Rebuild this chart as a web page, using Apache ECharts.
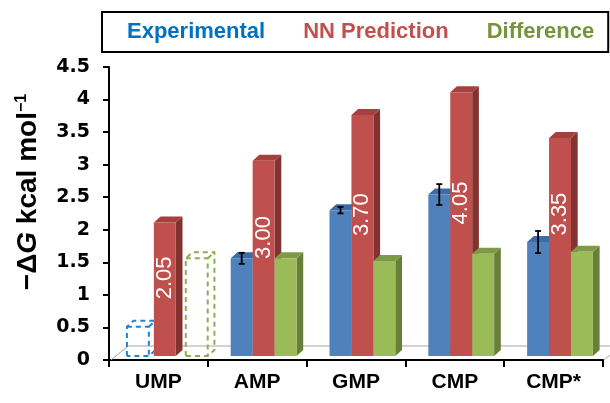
<!DOCTYPE html>
<html><head><meta charset="utf-8">
<script src="https://cdn.jsdelivr.net/npm/echarts@6/dist/echarts.min.js"></script>
<style>html,body{margin:0;padding:0;background:#fff}#c{width:610px;height:403px}</style>
</head><body><div id="c"></div>
<script>
// ---- data ----
const categories = ['UMP', 'AMP', 'GMP', 'CMP', 'CMP*'];
const experimental = [0.45, 1.50, 2.24, 2.48, 1.75];
const experimentalErr = [0, 0.085, 0.05, 0.16, 0.17];
const nnPrediction = [2.05, 3.00, 3.70, 4.05, 3.35];
const difference = [1.50, 1.50, 1.46, 1.57, 1.60];
// UMP experimental / difference are drawn as dashed (hypothetical) boxes
const hypothetical = [true, false, false, false, false];
const seriesNames = ['Experimental', 'NN Prediction', 'Difference'];

// ---- styling ----
const nnLabelCenter = [1.20, 1.82, 2.17, 2.35, 2.18]; // label centre, in axis units
const hypoShift = [-5, 0, 10]; // px shift of dashed boxes per slot
const DX = 6.7, DY = 6, LIFT = 4;
const palette = [
  {front: '#4F81BD', top: '#3E6BA3', side: '#355E8E', dash: '#1A86D6', legend: '#0070C0'},
  {front: '#C0504D', top: '#A3413E', side: '#843230', dash: '#C0504D', legend: '#C0504D'},
  {front: '#9BBB59', top: '#7E9A46', side: '#687F3A', dash: '#8DAE4E', legend: '#77933C'}
];

function geom(api, slot) {
  const ci = api.value(0), v = api.value(1);
  const top = api.coord([ci, v]), base = api.coord([ci, 0]);
  const cw = api.size([1, 0])[0];
  const w = cw * 0.222;
  const x0 = top[0] - cw * 0.268 + slot * w;
  return {ci, v, x0, x1: x0 + w, w, yt: top[1] - LIFT, yb: base[1] - LIFT};
}
function solid(g, c) {
  return [
    {type: 'polygon', shape: {points: [[g.x1, g.yt], [g.x1 + DX, g.yt - DY], [g.x1 + DX, g.yb - DY], [g.x1, g.yb]]}, style: {fill: c.side}},
    {type: 'polygon', shape: {points: [[g.x0, g.yt], [g.x0 + DX, g.yt - DY], [g.x1 + DX, g.yt - DY], [g.x1, g.yt]]}, style: {fill: c.top}},
    {type: 'rect', shape: {x: g.x0, y: g.yt, width: g.w, height: g.yb - g.yt}, style: {fill: c.front}}
  ];
}
function dashed(g, color, shift) {
  const x0 = g.x0 + shift, x1 = g.x1 + shift;
  const st = {fill: 'none', stroke: color, lineWidth: 2, lineDash: [5, 4]};
  return [
    {type: 'polyline', shape: {points: [[x0, g.yb], [x0, g.yt], [x0 + DX, g.yt - DY], [x1 + DX, g.yt - DY], [x1 + DX, g.yb - DY], [x1, g.yb], [x0, g.yb]]}, style: st},
    {type: 'polyline', shape: {points: [[x0, g.yt], [x1, g.yt], [x1, g.yb]]}, style: st},
    {type: 'line', shape: {x1: x1, y1: g.yt, x2: x1 + DX, y2: g.yt - DY}, style: st}
  ];
}
function makeRender(slot) {
  return function (params, api) {
    const g = geom(api, slot);
    if (isNaN(g.v)) return;
    const c = palette[slot];
    let children;
    if (slot !== 1 && hypothetical[g.ci]) {
      children = dashed(g, c.dash, hypoShift[slot]);
    } else {
      children = solid(g, c);
    }
    if (slot === 0) {
      const e = api.value(2);
      if (e > 0) {
        const cx = (g.x0 + g.x1) / 2;
        const yh = api.coord([g.ci, g.v + e])[1] - LIFT;
        const yl = api.coord([g.ci, g.v - e])[1] - LIFT;
        const st = {stroke: '#000', lineWidth: 1.8};
        children.push({type: 'line', shape: {x1: cx, y1: yh, x2: cx, y2: yl}, style: st});
        children.push({type: 'line', shape: {x1: cx - 3, y1: yh, x2: cx + 3, y2: yh}, style: st});
        children.push({type: 'line', shape: {x1: cx - 3, y1: yl, x2: cx + 3, y2: yl}, style: st});
      }
    }
    if (slot === 1) {
      const yl = api.coord([g.ci, nnLabelCenter[g.ci]])[1] - LIFT;
      children.push({type: 'text', x: (g.x0 + g.x1) / 2, y: yl, rotation: Math.PI / 2,
        style: {text: g.v.toFixed(2), fill: '#fff', font: '22px "Liberation Sans", Arial', align: 'center', verticalAlign: 'middle'}});
    }
    return {type: 'group', children};
  };
}

const chart = echarts.init(document.getElementById('c'), null, {renderer: 'canvas'});
const values = [experimental, nnPrediction, difference];
const series = [{
  type: 'custom', name: 'floor', silent: true, z: 1, clip: false,
  data: [[0, 0]],
  renderItem: function (params, api) {
    const cs = params.coordSys;
    const x0 = cs.x, x1 = cs.x + cs.width, yb = cs.y + cs.height;
    const st = {fill: 'none', stroke: '#A6A6A6', lineWidth: 1};
    return {type: 'group', children: [
      {type: 'polyline', shape: {points: [[x0 + 2, yb], [x0 + 19, yb - 14], [x1 + 19, yb - 14]]}, style: st},
      {type: 'line', shape: {x1: x1 + 1, y1: yb, x2: x1 + 18, y2: yb - 14}, style: st}
    ]};
  }
}];
seriesNames.forEach(function (name, s) {
  series.push({
    type: 'custom', name: name, z: 2, clip: false,
    itemStyle: {color: palette[s].front},
    data: categories.map(function (c, i) { return s === 0 ? [i, values[s][i], experimentalErr[i]] : [i, values[s][i]]; }),
    renderItem: makeRender(s)
  });
});

chart.setOption({
  animation: false,
  backgroundColor: '#fff',
  grid: {left: 109, right: 7, top: 67, bottom: 43},
  legend: {
    left: 102, top: 12, orient: 'horizontal', selectedMode: false,
    padding: [9, 14, 9, 20], itemGap: 33, itemWidth: 0, itemHeight: 0,
    borderColor: '#000', borderWidth: 2, borderRadius: 0,
    textStyle: {fontFamily: '"Liberation Sans", Arial', fontWeight: 'bold', fontSize: 22},
    data: seriesNames.map(function (n, i) { return {name: n, icon: 'rect', textStyle: {color: palette[i].legend}}; })
  },
  xAxis: {
    type: 'category', data: categories,
    axisLine: {show: true, lineStyle: {color: '#000', width: 2}},
    axisTick: {show: true, length: 7, interval: 0, lineStyle: {color: '#000', width: 2}},
    axisLabel: {margin: 12, color: '#000', fontFamily: '"Liberation Sans", Arial', fontWeight: 'bold', fontSize: 21},
    splitLine: {show: false}
  },
  yAxis: {
    type: 'value', min: 0, max: 4.5, interval: 0.5,
    axisLine: {show: true, lineStyle: {color: '#000', width: 2}},
    axisTick: {show: true, length: 6, lineStyle: {color: '#000', width: 2}},
    axisLabel: {margin: 19, color: '#000', fontFamily: '"DejaVu Sans"', fontWeight: 'bold', fontSize: 19},
    splitLine: {show: false}
  },
  graphic: [{
    type: 'text', x: 28, y: 192, rotation: Math.PI / 2,
    style: {
      text: '{b|−Δ}{i|G}{b| kcal mol}{s|−1}',
      align: 'center', verticalAlign: 'middle', fill: '#000',
      rich: {
        b: {fontFamily: '"Liberation Sans", Arial', fontWeight: 'bold', fontSize: 28, color: '#000'},
        i: {fontFamily: '"Liberation Sans", Arial', fontWeight: 'bold', fontStyle: 'italic', fontSize: 28, color: '#000'},
        s: {fontFamily: '"Liberation Sans", Arial', fontWeight: 'bold', fontSize: 16, verticalAlign: 'top', color: '#000'}
      }
    }
  }],
  series: series
});
</script></body></html>
